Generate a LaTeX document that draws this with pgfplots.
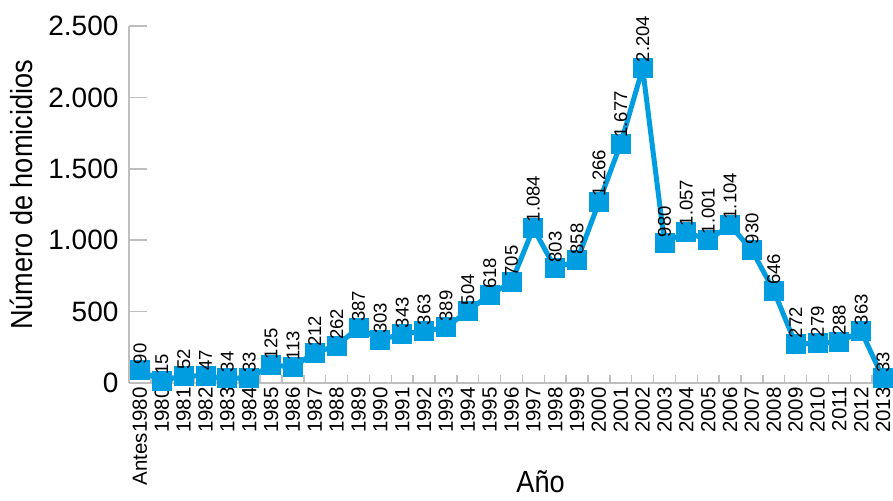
\documentclass[border=0pt]{standalone}
\usepackage{pgfplots}
\pgfplotsset{compat=1.18}
\usepackage{fontspec}
\setmainfont{Liberation Sans}
\newfontfamily\narrowfont{Liberation Sans}[FakeStretch=0.89]
\definecolor{lineblue}{RGB}{0,158,224}
\definecolor{axgray}{RGB}{190,190,190}
\begin{document}
\begin{tikzpicture}
\begin{axis}[
  scale only axis, width=765pt, height=357pt,
  xmin=-0.5, xmax=34.5, ymin=0, ymax=2500,
  clip=false,
  axis x line*=bottom, axis y line*=left,
  axis line style={draw=axgray, line width=1.5pt, -},
  /pgf/number format/assume math mode=true,
  /pgf/number format/1000 sep={.},
  ytick={0,500,...,2500},
  xtick={0,...,34},
  xticklabels={Antes1980,1980,1981,1982,1983,1984,1985,1986,1987,1988,1989,1990,1991,1992,1993,1994,1995,1996,1997,1998,1999,2000,2001,2002,2003,2004,2005,2006,2007,2008,2009,2010,2011,2012,2013},
  tick align=inside,
  major tick length=18pt,
  xtick style={draw=none},
  ytick style={draw=axgray, line width=1.5pt},
  extra x ticks={-0.5,0.5,...,34.5},
  extra x tick labels={},
  extra x tick style={xtick style={draw=axgray, line width=1.5pt}, major tick length=8pt},
  yticklabel style={font=\fontsize{28}{28}\selectfont, xshift=-7pt},
  xticklabel style={font=\fontsize{20.5}{20.5}\selectfont, rotate=90, anchor=east, inner sep=4pt},
  ylabel={Número de homicidios},
  ylabel style={font=\narrowfont\fontsize{30.5}{30.5}\selectfont, at={(axis description cs:-0.1255,0.527)}, anchor=base},
  xlabel={Año},
  xlabel style={font=\narrowfont\fontsize{30.5}{30.5}\selectfont, at={(axis description cs:0.538,-0.308)}, anchor=base, inner sep=0pt},
  nodes near coords,
  every node near coord/.append style={rotate=90, anchor=west, inner xsep=6pt, inner ysep=0pt, font=\fontsize{18.5}{18.5}\selectfont, text=black},
]
\addplot[color=lineblue, line width=5pt, mark=square*, mark size=9.5pt, mark options={fill=lineblue, draw=lineblue, line width=0pt}] coordinates {
(0,90) (1,15) (2,52) (3,47) (4,34) (5,33) (6,125) (7,113) (8,212) (9,262)
(10,387) (11,303) (12,343) (13,363) (14,389) (15,504) (16,618) (17,705) (18,1084) (19,803)
(20,858) (21,1266) (22,1677) (23,2204) (24,980) (25,1057) (26,1001) (27,1104) (28,930) (29,646)
(30,272) (31,279) (32,288) (33,363) (34,33)
};
\end{axis}
\pgfresetboundingbox
\useasboundingbox (current axis.south west) ++(-129pt,-117pt) rectangle ++(893pt,500pt);
\end{tikzpicture}
\end{document}
